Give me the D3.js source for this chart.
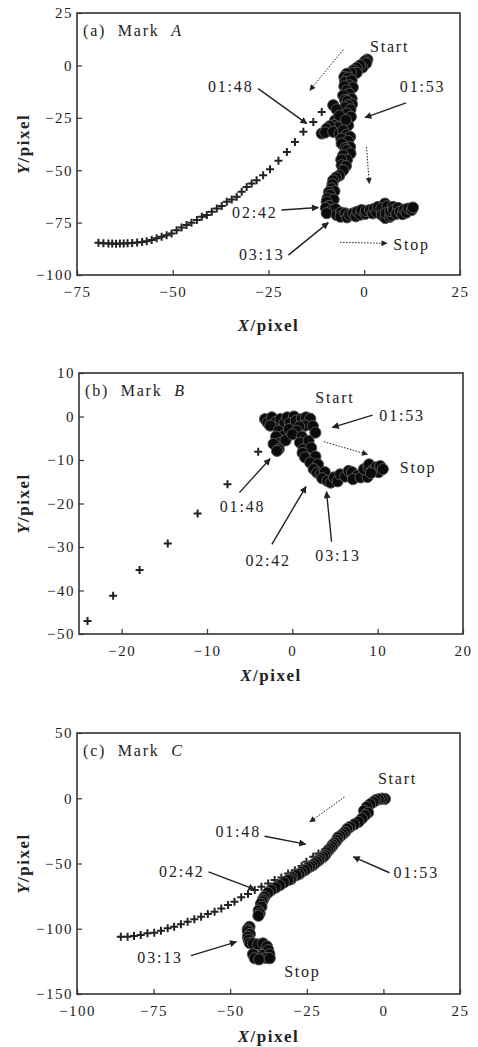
<!DOCTYPE html>
<html>
<head>
<meta charset="UTF-8">
<title>Mark trajectories</title>
<script src="https://cdn.jsdelivr.net/npm/d3@7"></script>
<style>
    body { margin: 0; background: #fff; }
    text { font-family: "Liberation Serif", "Times New Roman", serif; fill: #222; }
    .tick text { font-size: 15px; letter-spacing: 1.5px; }
    .tick line { stroke: #333; stroke-width: 1.2; }
    .ann { font-size: 16px; letter-spacing: 1.8px; white-space: pre; }
    .ttl { font-size: 17px; font-weight: bold; letter-spacing: 1.5px; }
</style>
</head>
<body>
<script>
// ticks
var aXTicks = [-75, -50, -25, 0, 25];
var aYTicks = [25, 0, -25, -50, -75, -100];
var bXTicks = [-20, -10, 0, 10, 20];
var bYTicks = [10, 0, -10, -20, -30, -40, -50];
var cXTicks = [-100, -75, -50, -25, 0, 25];
var cYTicks = [50, 0, -50, -100, -150];

// (a) Mark A : + reference points, filled circles measured track
var aPlus = [[-69.4,-84.6],[-68.1,-84.8],[-66.8,-85],[-65.8,-85],[-64.8,-85.1],[-63.8,-85],[-62.8,-85],[-61.8,-84.9],
    [-60.6,-84.7],[-59.3,-84.5],[-58,-84.2],[-56.8,-83.9],[-55.5,-83.3],[-54.2,-82.5],[-52.9,-81.7],[-51.6,-81],
    [-50.3,-80.2],[-49,-78.6],[-47.7,-77.3],[-46.4,-76.2],[-45.1,-75.1],[-43.7,-73.8],[-42.4,-72.2],[-41.1,-71.4],
    [-39.8,-69.8],[-38.5,-68.3],[-37.2,-67.1],[-35.9,-65.1],[-34.6,-64],[-33.3,-62.7],[-32,-60.3],[-30.7,-58],
    [-29.4,-56.3],[-28.1,-54.8],[-26.4,-52.4],[-24.6,-49.5],[-22.4,-45.5],[-20.2,-41.3],[-18.1,-36.5],[-15.9,-31.7],
    [-13.3,-27],[-11.1,-22.2]];
var aDots = [[0.8,2.8],[0.2,2.0],[0.5,1],[-0.5,-1],[-1.1,0],[-2.0,-1.2],[-2.9,-2.4],[-2,-3.5],[-3.5,-3.5],[-4.6,-4],
    [-5.2,-5.5],[-4.2,-5.8],[-5.0,-7.9],[-3.3,-7.1],[-3.8,-9.5],[-3,-10.5],[-5.2,-10],[-4.6,-11.9],[-4,-13.5],
    [-5.5,-14.3],[-3.3,-15.9],[-5,-16.5],[-4.4,-17],[-3.2,-18.5],[-4.2,-19],[-5,-20],[-3.6,-21],[-4.5,-23],
    [-3.5,-24.5],[-8.1,-19],[-7.2,-21],[-7.6,-26.2],[-6.5,-24],[-7.9,-28.5],[-6.8,-29.5],[-9,-29],[-9.8,-30.2],
    [-11.1,-32.5],[-10.2,-32.0],[-8.1,-31.7],[-6.5,-32.5],[-4.2,-28.6],[-4.8,-26],[-5.5,-31],[-4.6,-33],
    [-3.7,-34.1],[-6,-35],[-4.2,-36],[-5.9,-37.3],[-3.7,-38.9],[-5,-39.5],[-4.6,-40.5],[-3.6,-42],[-5.5,-42.9],
    [-4.5,-45],[-6,-45],[-5.9,-47.6],[-4.8,-48],[-5.5,-50],[-6.5,-52.5],[-7.4,-53.5],[-8.1,-54.8],[-8.3,-56.7],
    [-8.5,-58.7],[-7.8,-60],[-9.2,-60.5],[-8.9,-61.9],[-9.6,-63.5],[-8,-64],[-9.8,-65.1],[-9.2,-67],[-10,-68],
    [-8.5,-69],[-7.5,-68.5],[-9.8,-70.5],[-7.2,-71.4],[-6.1,-70.2],[-6.2,-72.2],[-5,-70.6],[-4.5,-72.5],
    [-3.9,-71.2],[-2.9,-70.6],[-2.2,-72],[-1.8,-69.8],[-1,-71.2],[-0.7,-69],[0.3,-70.8],[0.4,-69.4],[1.5,-69],
    [2.2,-70.6],[2.6,-68.4],[3.2,-70.1],[3.6,-67.5],[5.4,-65.9],[4.5,-68.2],[6,-67.2],[4.6,-71.4],[5.5,-72.8],
    [5.6,-70.5],[6.7,-72.2],[7.2,-71.5],[6.8,-69.5],[7.5,-67.5],[7.6,-69],[8.8,-68],[8.4,-70.8],[9.3,-69.8],
    [10,-71],[10.4,-68.8],[11,-70.2],[11.5,-68.3],[12.4,-69],[12.7,-67.8]];

// (b) Mark B
var bPlus = [[-24,-47],[-21,-41.2],[-17.9,-35.3],[-14.6,-29.2],[-11.1,-22.3],[-7.6,-15.6],[-4,-8.1]];
var bDots = [[-3.2,-0.6],[-2.9,-1.4],[-2.4,-0.2],[-1.9,-1.2],[-1.4,-0.6],[-0.9,-1.4],[-0.6,-0.2],[0.2,0],
    [-0.3,-1.5],[0.4,-1],[1.1,-0.6],[1.6,-0.2],[2.1,-0.5],[1.5,-2.1],[2.4,-2.2],[0.8,-2.3],[2.7,-3.7],[-2.6,-2.1],
    [-1.6,-3.3],[-1.0,-4.4],[-1.9,-4.6],[-1.4,-6],[-2.2,-6.3],[-0.8,-5.5],[-1.6,-7.5],[-1.8,-7.9],[-0.4,-2.9],
    [0.5,-3.3],[0,-4.1],[1.1,-4.6],[0.9,-6],[1.3,-7.5],[1.9,-5.6],[2.2,-7.2],[1.2,-8.4],[1.5,-9.4],[2.7,-9.2],
    [2.1,-10.6],[3,-11],[2.5,-12.1],[2.9,-12.9],[3.3,-13.3],[3.8,-12.8],[3.5,-14.2],[4.1,-14.8],[4.5,-15.2],
    [4.9,-14],[5.3,-14.9],[5.6,-13.3],[6.2,-13.8],[6.6,-12.5],[7,-12.8],[7.6,-13.6],[7.1,-14.4],[8,-14],
    [8.8,-13.9],[8.4,-12.1],[8.9,-11.7],[9.0,-11],[9.4,-12.3],[9.8,-11.7],[10.1,-12.8],[10.3,-11.4],[10.6,-12.1],
    [9.2,-13]];

// (c) Mark C
var cPlus = [[-85.7,-106.1],[-83.5,-106.1],[-81.4,-105.6],[-79.2,-104.8],[-77,-103.5],[-74.8,-103],[-72.6,-101.5],
    [-70.4,-99.7],[-68.3,-98.4],[-66.1,-96.6],[-63.9,-94.6],[-61.7,-92.8],[-59.5,-90.8],[-57.3,-88.7],[-55.1,-86.9],
    [-52.9,-84.4],[-50.7,-81.8],[-48.6,-79.3],[-46.4,-75.9],[-44.2,-73.4],[-42,-70.4],[-39.8,-67.8],[-37.6,-65.3],
    [-35.5,-62.7],[-33.3,-60.7],[-31.1,-57.6],[-28.9,-55.1],[-26.7,-52],[-25.1,-48.7],[-22.9,-44.9],[-21.2,-42.3],
    [-19.1,-39.3]];
var cDots = [[0.5,-0.5],[-0.5,-0.3],[-1.5,-0.8],[-2.5,-1.5],[-3.2,-2.8],[-4.3,-4.5],[-5.4,-6.7],[-6.3,-9.5],
    [-5,-11],[-6,-13],[-7,-15.5],[-8.1,-18.1],[-9.5,-20],[-10.9,-22],[-11.8,-23.5],[-12.5,-25.8],[-13.3,-27.5],
    [-14,-29],[-14.8,-30],[-15.2,-32.1],[-15.8,-34],[-16.5,-35.5],[-16.8,-37],[-17.4,-38.5],[-18,-40],
    [-18.6,-41.5],[-19,-43.5],[-19.6,-44.9],[-20.5,-46],[-21,-47.5],[-21.7,-48.5],[-22.4,-50],[-23.2,-51.5],
    [-24,-52.5],[-24.8,-53.5],[-25.6,-55.1],[-26.7,-56.5],[-27.5,-58],[-28.4,-58.9],[-29.8,-60.5],[-30.2,-62],
    [-31.1,-62.7],[-32.5,-64.5],[-33.8,-66.6],[-35.2,-68.5],[-36.6,-70.4],[-37.7,-72.5],[-38.8,-75.5],
    [-39.3,-77.5],[-39.5,-79],[-40,-81],[-39.8,-83.2],[-40.7,-86],[-40.4,-88.2],[-40.8,-90],[-43.7,-98.5],
    [-44.3,-100.5],[-44.2,-102],[-43.6,-104],[-44.2,-106.1],[-44,-108.5],[-43.6,-111],[-42.6,-111.2],
    [-41,-112],[-39.3,-111.2],[-38,-113.5],[-37.6,-116.3],[-37.2,-119.5],[-39.8,-120.1],[-38.4,-122.3],
    [-41,-121.5],[-42.6,-119.5],[-42,-122.6],[-40.6,-123.5],[-37.1,-122.6]];

var W = 478, H = 1047;

var panels = [
    { tag: '(a)', mark: 'A', left: 77, right: 460, top: 13, bottom: 275, xDom: [-75, 25], yDom: [-100, 25],
      xTicks: aXTicks, yTicks: aYTicks, plus: aPlus, dots: aDots, xLabelY: 331,
      notes: [['Start', 1.5, 6.2], ['01:48', -40.8, -12.7], ['01:53', 9.3, -12.7], ['02:42', -34.5, -72.9],
              ['03:13', -32.7, -92.9], ['Stop', 7.6, -88]],
      arrows: [[-5.5, 7.5, -14.2, -11.9, 1], [-27.7, -11.1, -15, -27.8, 0], [10.9, -17.9, 0.2, -24.9, 0],
               [0.6, -38.9, 1.3, -56.3, 1], [-21.6, -69, -12, -67.8, 0], [-19.8, -90.5, -9.4, -75, 0],
               [-6.3, -84.4, 5.9, -84.9, 1]] },
    { tag: '(b)', mark: 'B', left: 79, right: 463, top: 373, bottom: 634, xDom: [-25, 20], yDom: [-50, 10],
      xTicks: bXTicks, yTicks: bYTicks, plus: bPlus, dots: bDots, xLabelY: 681,
      notes: [['Start', 2.7, 3.2], ['01:53', 10.2, -1.0], ['Stop', 12.6, -13.1], ['01:48', -8.5, -22],
              ['02:42', -5.5, -34.3], ['03:13', 2.7, -33.2]],
      arrows: [[9.4, 0.3, 4.7, -2.5, 0], [3.7, -5.8, 8.8, -8.7, 1], [-6.2, -17.5, -2.6, -9.7, 0],
               [-2.4, -29.4, 1.6, -16.1, 0], [4.6, -28.8, 4.0, -17.3, 0]] },
    { tag: '(c)', mark: 'C', left: 77, right: 460, top: 733, bottom: 994, xDom: [-100, 25], yDom: [-150, 50],
      xTicks: cXTicks, yTicks: cYTicks, plus: cPlus, dots: cDots, xLabelY: 1042,
      notes: [['Start', -1.8, 11.2], ['01:48', -54.8, -29.6], ['01:53', 3.3, -61.4], ['02:42', -73.2, -60.2],
              ['03:13', -80.3, -126], ['Stop', -32.4, -136.7]],
      arrows: [[-12.7, 1, -24, -18.1, 1], [-38.8, -29.1, -25.4, -35.2, 0], [2, -57.1, -9.8, -44.9, 0],
               [-57.1, -56.4, -42, -69.9, 0], [-62.8, -120.6, -48, -110, 0]] }
];

var svg = d3.select('body').append('svg')
    .attr('width', W).attr('height', H)
    .attr('font-family', '"Liberation Serif", "Times New Roman", serif');

// arrow heads
var defs = svg.append('defs');
defs.append('marker').attr('id', 'head').attr('viewBox', '0 0 10 10')
    .attr('refX', 9).attr('refY', 5).attr('markerWidth', 9).attr('markerHeight', 7)
    .attr('markerUnits', 'userSpaceOnUse').attr('orient', 'auto')
    .append('path').attr('d', 'M0,0L10,5L0,10z').attr('fill', '#222');
defs.append('marker').attr('id', 'headS').attr('viewBox', '0 0 10 10')
    .attr('refX', 9).attr('refY', 5).attr('markerWidth', 7).attr('markerHeight', 6)
    .attr('markerUnits', 'userSpaceOnUse').attr('orient', 'auto')
    .append('path').attr('d', 'M0,0L10,5L0,10z').attr('fill', '#222');

panels.forEach(function (p) {
    var x = d3.scaleLinear().domain(p.xDom).range([p.left, p.right]);
    var y = d3.scaleLinear().domain(p.yDom).range([p.bottom, p.top]);
    var g = svg.append('g');

    // axes, ticks pointing inside
    g.append('g').attr('transform', 'translate(0,' + p.bottom + ')')
        .call(d3.axisBottom(x).tickValues(p.xTicks).tickSizeInner(-5).tickSizeOuter(0).tickPadding(11))
        .call(function (s) { s.select('.domain').remove(); s.attr('font-family', null).attr('font-size', null); });
    g.append('g').attr('transform', 'translate(' + p.left + ',0)')
        .call(d3.axisLeft(y).tickValues(p.yTicks).tickSizeInner(-5).tickSizeOuter(0).tickPadding(4))
        .call(function (s) { s.select('.domain').remove(); s.attr('font-family', null).attr('font-size', null); });
    g.selectAll('.tick text').style('fill', '#222');

    // frame
    g.append('rect')
        .attr('x', p.left).attr('y', p.top)
        .attr('width', p.right - p.left).attr('height', p.bottom - p.top)
        .attr('fill', 'none').attr('stroke', '#333').attr('stroke-width', 1.6);

    // plus markers
    g.selectAll('.plus').data(p.plus).enter().append('path')
        .attr('class', 'plus')
        .attr('transform', function (d) { return 'translate(' + x(d[0]) + ',' + y(d[1]) + ')'; })
        .attr('d', 'M-4,0H4M0,-4V4')
        .attr('stroke', '#222').attr('stroke-width', 2);

    // filled circles
    g.selectAll('.dot').data(p.dots).enter().append('circle')
        .attr('class', 'dot')
        .attr('cx', function (d) { return x(d[0]); })
        .attr('cy', function (d) { return y(d[1]); })
        .attr('r', 5.6)
        .attr('fill', '#0b0b0b').attr('stroke', '#555').attr('stroke-width', 1);

    // arrows
    g.selectAll('.arr').data(p.arrows).enter().append('line')
        .attr('x1', function (d) { return x(d[0]); })
        .attr('y1', function (d) { return y(d[1]); })
        .attr('x2', function (d) { return x(d[2]); })
        .attr('y2', function (d) { return y(d[3]); })
        .attr('stroke', '#222')
        .attr('stroke-width', function (d) { return d[4] ? 1 : 1.4; })
        .attr('stroke-dasharray', function (d) { return d[4] ? '1.5,1.5' : null; })
        .attr('marker-end', function (d) { return d[4] ? 'url(#headS)' : 'url(#head)'; });

    // notes
    g.selectAll('.ann').data(p.notes).enter().append('text')
        .attr('class', 'ann')
        .attr('x', function (d) { return x(d[1]); })
        .attr('y', function (d) { return y(d[2]); })
        .text(function (d) { return d[0]; });

    // panel title
    var t = g.append('text').attr('class', 'ann')
        .attr('x', p.left + 6).attr('y', p.top + 23);
    t.append('tspan').text(p.tag + '  Mark  ');
    t.append('tspan').style('font-style', 'italic').text(p.mark);

    // axis titles
    var xt = g.append('text').attr('class', 'ttl')
        .attr('x', (p.left + p.right) / 2).attr('y', p.xLabelY)
        .attr('text-anchor', 'middle');
    xt.append('tspan').style('font-style', 'italic').text('X');
    xt.append('tspan').text('/pixel');

    var yt = g.append('text').attr('class', 'ttl')
        .attr('transform', 'translate(29,' + (p.top + p.bottom) / 2 + ') rotate(-90)')
        .attr('text-anchor', 'middle');
    yt.append('tspan').style('font-style', 'italic').text('Y');
    yt.append('tspan').text('/pixel');
});
</script>
</body>
</html>
